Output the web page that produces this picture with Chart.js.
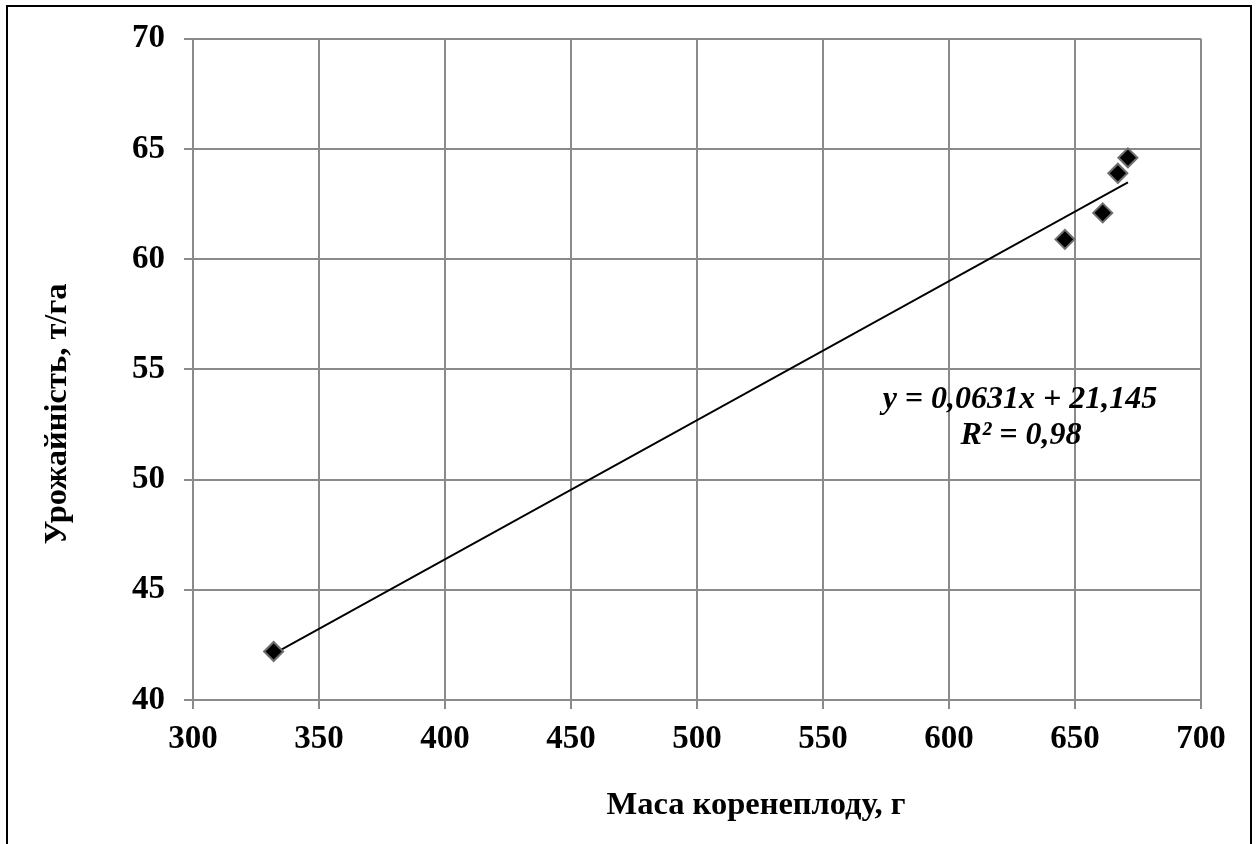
<!DOCTYPE html>
<html>
<head>
<meta charset="utf-8">
<script src="https://cdn.jsdelivr.net/npm/chart.js@4.4.1/dist/chart.umd.min.js"></script>
<style>
html,body{margin:0;padding:0;background:#fff;}
#wrap{position:absolute;left:0;top:0;width:1256px;height:844px;}
</style>
</head>
<body>
<div id="wrap"><canvas id="c" width="1256" height="844"></canvas></div>
<script>
// Data
const massG = [332, 646, 661, 667, 671];
const yieldTHa = [42.2, 60.9, 62.1, 63.9, 64.6];
const xTicks = [300, 350, 400, 450, 500, 550, 600, 650, 700];
const yTicks = [40, 45, 50, 55, 60, 65, 70];
const trendSlope = 0.0631;
const trendIntercept = 21.145;
const eqLines = ["y = 0,0631x + 21,145", "R² = 0,98"];
const xTitle = "Маса коренеплоду, г";
const yTitle = "Урожайність, т/га";

const points = massG.map((x, i) => ({x: x, y: yieldTHa[i]}));
const xMin = Math.min(...massG), xMax = Math.max(...massG);
const trend = [xMin, xMax].map(x => ({x: x, y: trendSlope * x + trendIntercept}));

const GRID = '#8a8a8a';
const FONT = '"Times New Roman", "Liberation Serif", serif';

const decor = {
  id: 'decor',
  beforeDraw(chart) {
    const ctx = chart.ctx;
    ctx.save();
    ctx.fillStyle = '#fff';
    ctx.fillRect(0, 0, chart.width, chart.height);
    ctx.restore();
  },
  afterDraw(chart) {
    const ctx = chart.ctx;
    ctx.save();
    // outer frame
    ctx.strokeStyle = '#000';
    ctx.lineWidth = 2;
    ctx.strokeRect(7, 6, 1244, 900);
    // axis titles
    ctx.fillStyle = '#000';
    ctx.font = 'bold 32.5px ' + FONT;
    ctx.textAlign = 'center';
    ctx.textBaseline = 'middle';
    ctx.fillText(xTitle, 756, 806);
    ctx.save();
    ctx.translate(58, 414);
    ctx.rotate(-Math.PI / 2);
    ctx.fillText(yTitle, 0, 0);
    ctx.restore();
    // trendline equation
    ctx.font = 'italic bold 32px ' + FONT;
    ctx.fillText(eqLines[0], 1020, 400);
    ctx.fillText(eqLines[1], 1021, 436);
    ctx.restore();
  }
};

new Chart(document.getElementById('c'), {
  type: 'scatter',
  data: {
    datasets: [
      {
        label: 'data',
        data: points,
        pointStyle: 'rectRot',
        pointRadius: 9.5,
        pointHoverRadius: 9.5,
        backgroundColor: '#000',
        borderColor: '#6e6e6e',
        borderWidth: 2,
        order: 1
      },
      {
        label: 'trend',
        type: 'line',
        data: trend,
        borderColor: '#000',
        borderWidth: 1.8,
        pointRadius: 0,
        fill: false,
        order: 2
      }
    ]
  },
  options: {
    responsive: false,
    animation: false,
    devicePixelRatio: 1,
    layout: { padding: { left: 0, top: 38, right: 55, bottom: 0 } },
    plugins: { legend: { display: false }, tooltip: { enabled: false } },
    scales: {
      x: {
        type: 'linear',
        min: 300, max: 700,
        afterBuildTicks: s => { s.ticks = xTicks.map(v => ({value: v})); },
        afterFit: s => { s.height = 144; },
        ticks: { color: '#000', font: { family: FONT, size: 33, weight: 'bold' }, padding: 11, autoSkip: false, maxRotation: 0 },
        grid: { color: GRID, lineWidth: 2, tickLength: 9, drawTicks: true },
        border: { display: true, color: GRID, width: 2 }
      },
      y: {
        type: 'linear',
        min: 40, max: 70,
        afterBuildTicks: s => { s.ticks = yTicks.map(v => ({value: v})); },
        afterFit: s => { s.width = 193; },
        ticks: { color: '#000', font: { family: FONT, size: 33, weight: 'bold' }, padding: 19, autoSkip: false },
        grid: { color: GRID, lineWidth: 2, tickLength: 9, drawTicks: true },
        border: { display: true, color: GRID, width: 2 }
      }
    }
  },
  plugins: [decor]
});
</script>
</body>
</html>
